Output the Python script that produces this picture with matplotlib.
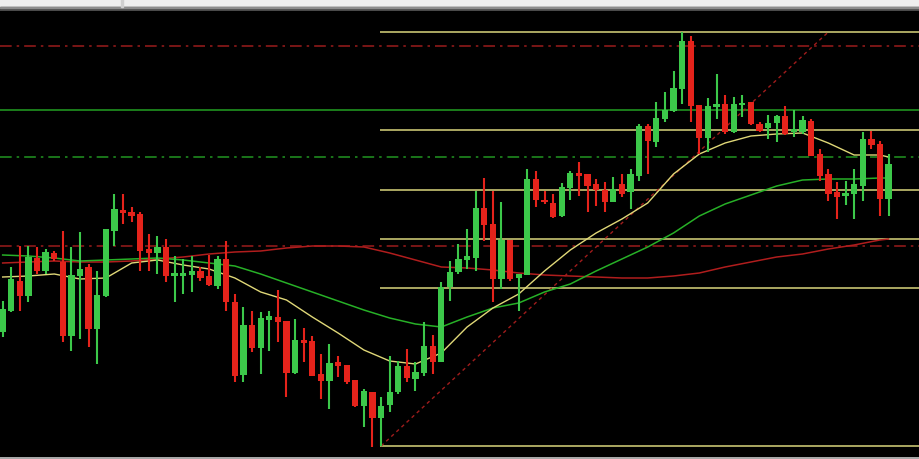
import matplotlib
matplotlib.use("Agg")
import matplotlib.pyplot as plt
import numpy as np
from matplotlib.patches import Rectangle

# OHLC per bar (arbitrary price units)
opens = [127, 148, 178, 163, 201, 188, 206, 197, 123, 183, 192, 130, 163, 228, 249, 247, 245, 210,
         206, 212, 183, 183, 184, 188, 183, 173, 200, 157, 84, 134, 111, 139, 142, 138, 86, 119,
         118, 85, 78, 97, 94, 79, 53, 67, 41, 54, 67, 93, 80, 86, 113, 97, 172, 187, 199, 201,
         251, 235, 180, 219, 181, 184, 280, 259, 256, 243, 271, 286, 285, 275, 269, 257, 275, 267,
         283, 333, 317, 340, 348, 370, 418, 354, 321, 352, 355, 327, 354, 357, 335, 331, 336, 343,
         327, 327, 338, 305, 285, 267, 263, 265, 273, 320, 315, 260]
highs = [158, 192, 213, 213, 212, 210, 208, 228, 212, 227, 195, 188, 230, 265, 265, 252, 247, 225,
         223, 220, 203, 200, 203, 192, 204, 203, 218, 165, 152, 148, 147, 148, 169, 138, 140, 131,
         123, 105, 115, 103, 94, 79, 70, 67, 62, 103, 98, 110, 97, 137, 124, 177, 198, 215, 230, 268,
         281, 268, 257, 219, 185, 290, 288, 268, 265, 276, 288, 297, 285, 280, 277, 282, 285, 290,
         335, 335, 357, 367, 388, 427, 423, 354, 361, 385, 364, 362, 364, 357, 337, 344, 344, 353,
         349, 343, 340, 310, 290, 277, 278, 290, 327, 328, 318, 305]
lows = [122, 147, 148, 157, 185, 185, 198, 117, 108, 120, 112, 95, 162, 213, 235, 237, 188, 188,
        185, 177, 157, 165, 167, 178, 173, 170, 148, 77, 77, 107, 85, 108, 117, 62, 85, 97,
        83, 60, 50, 82, 75, 52, 32, 12, 13, 47, 65, 77, 68, 83, 85, 97, 158, 185, 190, 188,
        218, 157, 170, 178, 148, 184, 252, 255, 241, 242, 259, 263, 247, 253, 247, 257, 262, 250,
        278, 285, 312, 337, 347, 355, 337, 305, 307, 340, 325, 326, 342, 334, 327, 320, 317, 324,
        322, 325, 303, 278, 258, 240, 254, 240, 258, 310, 243, 243]
closes = [150, 180, 163, 202, 188, 207, 200, 123, 184, 190, 130, 164, 230, 250, 246, 243, 208, 206,
          212, 183, 186, 186, 188, 181, 174, 200, 157, 83, 134, 111, 141, 143, 137, 86, 119, 116,
          83, 78, 96, 93, 77, 53, 68, 41, 53, 67, 93, 81, 87, 113, 97, 172, 187, 200, 203, 251,
          234, 180, 219, 180, 185, 280, 259, 257, 242, 272, 286, 283, 273, 269, 257, 270, 265, 285,
          333, 318, 341, 349, 371, 418, 353, 321, 353, 355, 327, 355, 356, 335, 328, 336, 343, 325,
          330, 339, 303, 283, 265, 262, 266, 275, 320, 314, 260, 295]

# moving averages sampled every third bar
ma_idx = [0, 3, 6, 9, 12, 15, 18, 21, 24, 27, 30, 33, 36, 39, 42, 45, 48, 51, 54, 57, 60, 63,
          66, 69, 72, 75, 78, 81, 84, 87, 90, 93, 96, 99, 102, 103]
ma_fast = [182, 183, 185, 180, 181, 196, 199, 194, 190, 181, 167, 159, 142, 126, 109, 98, 95, 106,
           132, 151, 165, 188, 209, 226, 240, 256, 285, 305, 316, 323, 325, 326, 316, 304, 304, 302]
ma_mid = [204, 203, 201, 198, 199, 200, 201, 199, 196, 193, 185, 176, 167, 158, 149, 141, 135, 132,
          142, 151, 156, 167, 175, 188, 200, 212, 226, 243, 255, 264, 273, 279, 280, 280, 281, 281]
ma_slow = [196, 197, 198, 197, 197, 198, 200, 202, 205, 207, 208, 211, 213, 213, 212, 206, 199, 192,
           191, 189, 186, 184, 183, 182, 181, 181, 183, 186, 192, 197, 202, 205, 210, 214, 219, 220]

# horizontal levels
red_levels = [413, 213]
green_solid_level = 349
green_dash_level = 302

# fibonacci retracement anchors (bar index, price)
fib_low_bar, fib_low = 44, 13
fib_high_bar, fib_high = 96, 427
fib_ratios = [0.0, 0.236, 0.382, 0.5, 0.618, 1.0]

BULL = "#3cc84a"
BEAR = "#e5231b"
FIB = "#c8c473"

fig = plt.figure(figsize=(9.2, 4.6), dpi=100, facecolor="#a8a8a8")
ax = fig.add_axes([0, 2 / 460, 1, 446 / 460])
ax.set_facecolor("black")

# window chrome at the top
fig.patches.append(Rectangle((0, 452 / 460), 1, 8 / 460, transform=fig.transFigure,
                             color="#eeeeee", zorder=-1))
fig.patches.append(Rectangle((0, 448 / 460), 1, 4 / 460, transform=fig.transFigure,
                             color="#4a4a4a", zorder=-1))
fig.patches.append(Rectangle((0, 451 / 460), 1, 1 / 460, transform=fig.transFigure,
                             color="#8c8c8c", zorder=-1))
fig.patches.append(Rectangle((121 / 920, 452 / 460), 2 / 920, 8 / 460, transform=fig.transFigure,
                             color="#cfcfcf", zorder=-1))

x = np.arange(len(opens))
o = np.array(opens, dtype=float)
c = np.array(closes, dtype=float)
up = c >= o
colors = np.where(up, BULL, BEAR)

# level lines
for lv in red_levels:
    ax.axhline(lv, color="#8e1a1a", lw=1.2, dashes=(7, 3, 1.5, 3), zorder=1)
ax.axhline(green_solid_level, color="#22a022", lw=1.1, zorder=1)
ax.axhline(green_dash_level, color="#1f8a1f", lw=1.2, dashes=(7, 3, 1.5, 3), zorder=1)

span = fib_high - fib_low
for r in fib_ratios:
    lv = fib_high - r * span
    ax.hlines(lv, fib_low_bar - 0.1, 120, color=FIB, lw=1.2, zorder=1)
ax.plot([fib_low_bar, fib_high_bar], [fib_low, fib_high], color="#a01c1c", lw=1.0,
        dashes=(2.5, 2.5), zorder=1)

# moving averages
ax.plot(ma_idx, ma_slow, color="#b01d1d", lw=1.1, zorder=2)
ax.plot(ma_idx, ma_mid, color="#27b027", lw=1.1, zorder=2)
ax.plot(ma_idx, ma_fast, color="#e0d878", lw=1.0, zorder=2)

# candles
ax.vlines(x, lows, highs, colors=colors, lw=1.5, zorder=3)
body_h = np.maximum(np.abs(c - o), 1.5)
ax.bar(x, body_h, bottom=np.minimum(o, c), width=0.74, color=colors, zorder=4, linewidth=0)

ax.set_xlim(-0.31, 106.66)
ax.set_ylim(2, 448)
ax.set_xticks([])
ax.set_yticks([])
for s in ax.spines.values():
    s.set_visible(False)

fig.savefig("out.png", dpi=100, facecolor=fig.get_facecolor())
